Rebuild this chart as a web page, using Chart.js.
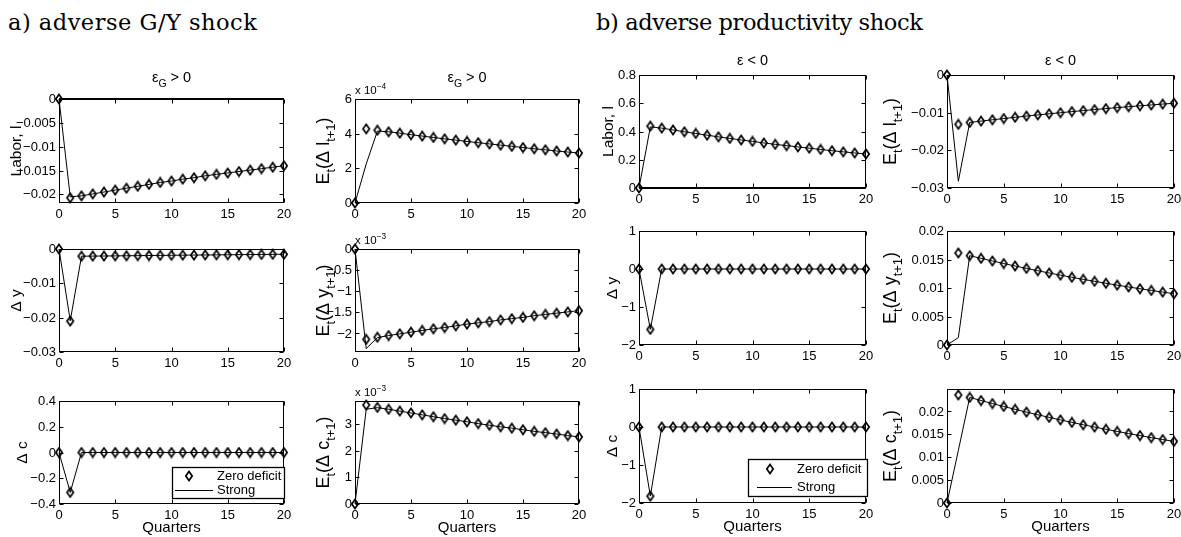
<!DOCTYPE html>
<html>
<head>
<meta charset="utf-8">
<script src="https://cdn.jsdelivr.net/npm/chart.js@4.4.1/dist/chart.umd.min.js"></script>
<style>
  html, body { margin: 0; padding: 0; background: #fff; }
  body { width: 1181px; height: 537px; overflow: hidden; position: relative; }
  .head { position: absolute; font-family: "DejaVu Serif", serif; font-size: 22.5px; line-height: 23px; color: #000; white-space: nowrap; }
  canvas { position: absolute; }
</style>
</head>
<body>
<div class="head" style="left:8px;top:11px;letter-spacing:0.5px">a) adverse G/Y shock</div>
<div class="head" style="left:596px;top:11px;letter-spacing:-0.4px">b) adverse productivity shock</div>
<script>
// Horizon in quarters
const quarters = [0, 1, 2, 3, 4, 5, 6, 7, 8, 9, 10, 11, 12, 13, 14, 15, 16, 17, 18, 19, 20];

// ---- a) adverse G/Y shock (eps_G > 0) ----
const gLaborZeroDeficit = [0, -0.0207, -0.0203, -0.0199, -0.0195, -0.0191, -0.0187, -0.0183, -0.0179, -0.0175, -0.0172, -0.0168, -0.0165, -0.0161, -0.0158, -0.0155, -0.0152, -0.0149, -0.0146, -0.0143, -0.0140];
const gLaborStrong      = [0, -0.0205, -0.0203, -0.0199, -0.0195, -0.0191, -0.0187, -0.0183, -0.0179, -0.0175, -0.0172, -0.0168, -0.0165, -0.0161, -0.0158, -0.0155, -0.0152, -0.0149, -0.0146, -0.0143, -0.0140];
const gLaborFlat        = [0, 0, 0, 0, 0, 0, 0, 0, 0, 0, 0, 0, 0, 0, 0, 0, 0, 0, 0, 0, 0];

const gExpLaborZeroDeficit = [0, 4.28e-4, 4.20e-4, 4.11e-4, 4.03e-4, 3.94e-4, 3.86e-4, 3.78e-4, 3.70e-4, 3.63e-4, 3.55e-4, 3.48e-4, 3.41e-4, 3.34e-4, 3.27e-4, 3.20e-4, 3.13e-4, 3.07e-4, 3.00e-4, 2.94e-4, 2.88e-4];
const gExpLaborStrong      = [0, 2.25e-4, 4.15e-4, 4.11e-4, 4.03e-4, 3.94e-4, 3.86e-4, 3.78e-4, 3.70e-4, 3.63e-4, 3.55e-4, 3.48e-4, 3.41e-4, 3.34e-4, 3.27e-4, 3.20e-4, 3.13e-4, 3.07e-4, 3.00e-4, 2.94e-4, 2.88e-4];

const gOutputZeroDeficit = [0, -0.0210, -0.00210, -0.00207, -0.00204, -0.00200, -0.00197, -0.00193, -0.00190, -0.00187, -0.00183, -0.00180, -0.00177, -0.00174, -0.00171, -0.00168, -0.00165, -0.00162, -0.00159, -0.00156, -0.00153];
const gOutputStrong      = [0, -0.0209, -0.00210, -0.00207, -0.00204, -0.00200, -0.00197, -0.00193, -0.00190, -0.00187, -0.00183, -0.00180, -0.00177, -0.00174, -0.00171, -0.00168, -0.00165, -0.00162, -0.00159, -0.00156, -0.00153];

const gExpOutputZeroDeficit = [0, -2.14e-3, -2.09e-3, -2.05e-3, -2.01e-3, -1.97e-3, -1.93e-3, -1.89e-3, -1.86e-3, -1.82e-3, -1.78e-3, -1.75e-3, -1.72e-3, -1.68e-3, -1.65e-3, -1.62e-3, -1.58e-3, -1.55e-3, -1.52e-3, -1.49e-3, -1.46e-3];
const gExpOutputStrong      = [0, -2.36e-3, -2.10e-3, -2.05e-3, -2.01e-3, -1.97e-3, -1.93e-3, -1.89e-3, -1.86e-3, -1.82e-3, -1.78e-3, -1.75e-3, -1.72e-3, -1.68e-3, -1.65e-3, -1.62e-3, -1.58e-3, -1.55e-3, -1.52e-3, -1.49e-3, -1.46e-3];

const gConsZeroDeficit = [0, -0.31, 0, 0, 0, 0, 0, 0, 0, 0, 0, 0, 0, 0, 0, 0, 0, 0, 0, 0, 0];
const gConsStrong      = [0, -0.31, 0, 0, 0, 0, 0, 0, 0, 0, 0, 0, 0, 0, 0, 0, 0, 0, 0, 0, 0];

const gExpConsZeroDeficit = [0, 3.72e-3, 3.63e-3, 3.56e-3, 3.49e-3, 3.42e-3, 3.35e-3, 3.28e-3, 3.21e-3, 3.15e-3, 3.09e-3, 3.02e-3, 2.96e-3, 2.90e-3, 2.85e-3, 2.79e-3, 2.73e-3, 2.68e-3, 2.63e-3, 2.57e-3, 2.52e-3];
const gExpConsStrong      = [0, 3.56e-3, 3.62e-3, 3.56e-3, 3.49e-3, 3.42e-3, 3.35e-3, 3.28e-3, 3.21e-3, 3.15e-3, 3.09e-3, 3.02e-3, 2.96e-3, 2.90e-3, 2.85e-3, 2.79e-3, 2.73e-3, 2.68e-3, 2.63e-3, 2.57e-3, 2.52e-3];

// ---- b) adverse productivity shock (eps < 0) ----
const zLaborZeroDeficit = [0, 0.438, 0.424, 0.411, 0.398, 0.386, 0.374, 0.362, 0.351, 0.340, 0.330, 0.319, 0.309, 0.300, 0.291, 0.282, 0.273, 0.264, 0.256, 0.248, 0.241];
const zLaborStrong      = [0, 0.433, 0.424, 0.411, 0.398, 0.386, 0.374, 0.362, 0.351, 0.340, 0.330, 0.319, 0.309, 0.300, 0.291, 0.282, 0.273, 0.264, 0.256, 0.248, 0.241];
const zLaborFlat        = [0, 0, 0, 0, 0, 0, 0, 0, 0, 0, 0, 0, 0, 0, 0, 0, 0, 0, 0, 0, 0];

const zExpLaborZeroDeficit = [0, -0.0131, -0.0126, -0.01224, -0.01189, -0.01156, -0.01123, -0.01091, -0.01060, -0.01030, -0.01001, -0.00972, -0.00945, -0.00918, -0.00892, -0.00866, -0.00842, -0.00818, -0.00795, -0.00772, -0.00750];
const zExpLaborStrong      = [0, -0.0282, -0.0126, -0.01224, -0.01189, -0.01156, -0.01123, -0.01091, -0.01060, -0.01030, -0.01001, -0.00972, -0.00945, -0.00918, -0.00892, -0.00866, -0.00842, -0.00818, -0.00795, -0.00772, -0.00750];

const zOutputZeroDeficit = [0, -1.59, 0, 0, 0, 0, 0, 0, 0, 0, 0, 0, 0, 0, 0, 0, 0, 0, 0, 0, 0];
const zOutputStrong      = [0, -1.59, 0, 0, 0, 0, 0, 0, 0, 0, 0, 0, 0, 0, 0, 0, 0, 0, 0, 0, 0];

const zExpOutputZeroDeficit = [0, 0.01615, 0.01567, 0.01520, 0.01474, 0.01429, 0.01386, 0.01344, 0.01303, 0.01263, 0.01225, 0.01188, 0.01152, 0.01117, 0.01083, 0.01050, 0.01018, 0.00987, 0.00957, 0.00928, 0.00900];
const zExpOutputStrong      = [0, 0.0013, 0.01567, 0.01520, 0.01474, 0.01429, 0.01386, 0.01344, 0.01303, 0.01263, 0.01225, 0.01188, 0.01152, 0.01117, 0.01083, 0.01050, 0.01018, 0.00987, 0.00957, 0.00928, 0.00900];

const zConsZeroDeficit = [0, -1.82, 0, 0, 0, 0, 0, 0, 0, 0, 0, 0, 0, 0, 0, 0, 0, 0, 0, 0, 0];
const zConsStrong      = [0, -1.82, 0, 0, 0, 0, 0, 0, 0, 0, 0, 0, 0, 0, 0, 0, 0, 0, 0, 0, 0];

const zExpConsZeroDeficit = [0, 0.0236, 0.02306, 0.02238, 0.02172, 0.02108, 0.02046, 0.01985, 0.01927, 0.01870, 0.01815, 0.01761, 0.01709, 0.01659, 0.01610, 0.01563, 0.01516, 0.01472, 0.01428, 0.01386, 0.01345];
const zExpConsStrong      = [0, 0.0115, 0.02306, 0.02238, 0.02172, 0.02108, 0.02046, 0.01985, 0.01927, 0.01870, 0.01815, 0.01761, 0.01709, 0.01659, 0.01610, 0.01563, 0.01516, 0.01472, 0.01428, 0.01386, 0.01345];

// ---- tick values and labels ----
const xTicks      = [0, 5, 10, 15, 20];
const xTickLabels = ['0', '5', '10', '15', '20'];

const gLaborTicks = [0, -0.005, -0.01, -0.015, -0.02];
const gLaborTickLabels = ['0', '\u22120.005', '\u22120.01', '\u22120.015', '\u22120.02'];
const gExpLaborTicks = [0, 2e-4, 4e-4, 6e-4];
const gExpLaborTickLabels = ['0', '2', '4', '6'];
const gOutputTicks = [0, -0.01, -0.02, -0.03];
const gOutputTickLabels = ['0', '\u22120.01', '\u22120.02', '\u22120.03'];
const gExpOutputTicks = [0, -0.5e-3, -1e-3, -1.5e-3, -2e-3];
const gExpOutputTickLabels = ['0', '\u22120.5', '\u22121', '\u22121.5', '\u22122'];
const gConsTicks = [0.4, 0.2, 0, -0.2, -0.4];
const gConsTickLabels = ['0.4', '0.2', '0', '\u22120.2', '\u22120.4'];
const gExpConsTicks = [0, 1e-3, 2e-3, 3e-3];
const gExpConsTickLabels = ['0', '1', '2', '3'];

const zLaborTicks = [0, 0.2, 0.4, 0.6, 0.8];
const zLaborTickLabels = ['0', '0.2', '0.4', '0.6', '0.8'];
const zExpLaborTicks = [0, -0.01, -0.02, -0.03];
const zExpLaborTickLabels = ['0', '\u22120.01', '\u22120.02', '\u22120.03'];
const zOutputTicks = [1, 0, -1, -2];
const zOutputTickLabels = ['1', '0', '\u22121', '\u22122'];
const zExpOutputTicks = [0, 0.005, 0.01, 0.015, 0.02];
const zExpOutputTickLabels = ['0', '0.005', '0.01', '0.015', '0.02'];
const zConsTicks = [1, 0, -1, -2];
const zConsTickLabels = ['1', '0', '\u22121', '\u22122'];
const zExpConsTicks = [0, 0.005, 0.01, 0.015, 0.02];
const zExpConsTickLabels = ['0', '0.005', '0.01', '0.015', '0.02'];

// ---- layout helpers ----
const SANS = '"Liberation Sans", Arial, Helvetica, sans-serif';
const PL = 75, PT = 30, PR = 14, PB = 40;
const TICK_FONT = 13;

function toXY(values) {
  return quarters.map((q, i) => ({ x: q, y: values[i] }));
}

// hollow diamond marker
const diamond = (function () {
  const c = document.createElement('canvas');
  c.width = 10; c.height = 12;
  const g = c.getContext('2d');
  g.strokeStyle = '#000';
  g.lineWidth = 1.7;
  g.beginPath();
  g.moveTo(5, 1.5); g.lineTo(8.2, 6); g.lineTo(5, 10.5); g.lineTo(1.8, 6); g.closePath();
  g.stroke();
  return c;
})();

function richWidth(ctx, segs, size) {
  let w = 0;
  for (const [t, m] of segs) {
    ctx.font = (m ? size * 0.72 : size) + 'px ' + SANS;
    w += ctx.measureText(t).width;
  }
  return w;
}
function drawRich(ctx, segs, x, y, size, align) {
  const w = richWidth(ctx, segs, size);
  let cx = align === 'center' ? x - w / 2 : (align === 'right' ? x - w : x);
  ctx.textAlign = 'left';
  ctx.textBaseline = 'alphabetic';
  for (const [t, m] of segs) {
    const s = m ? size * 0.72 : size;
    ctx.font = s + 'px ' + SANS;
    const dy = m === 'sub' ? size * 0.32 : (m === 'sup' ? -size * 0.45 : 0);
    ctx.fillText(t, cx, y + dy);
    cx += ctx.measureText(t).width;
  }
}

function axesPlugin(p) {
  return {
    id: 'axesBox',
    afterDraw(chart) {
      const ctx = chart.ctx, a = chart.chartArea;
      const xs = chart.scales.x, ys = chart.scales.y;
      const ox = p.box[0] - PL, oy = p.box[1] - PT;   // canvas origin in page space
      const L = Math.round(a.left) + 0.5, R = Math.round(a.right) - 0.5;
      const T = Math.round(a.top) + 0.5, B = Math.round(a.bottom) - 0.5;
      ctx.save();
      ctx.fillStyle = '#000';
      ctx.strokeStyle = '#000';
      ctx.lineWidth = 1;
      ctx.strokeRect(L, T, R - L, B - T);
      // inward ticks on all four sides
      ctx.beginPath();
      for (const v of xTicks) {
        const px = Math.round(xs.getPixelForValue(v)) + 0.5;
        ctx.moveTo(px, B); ctx.lineTo(px, B - 4);
        ctx.moveTo(px, T); ctx.lineTo(px, T + 4);
      }
      for (const v of p.ticks) {
        const py = Math.round(ys.getPixelForValue(v)) + 0.5;
        ctx.moveTo(L, py); ctx.lineTo(L + 4, py);
        ctx.moveTo(R, py); ctx.lineTo(R - 4, py);
      }
      ctx.stroke();
      // tick labels
      ctx.font = TICK_FONT + 'px ' + SANS;
      ctx.textAlign = 'center';
      ctx.textBaseline = 'alphabetic';
      xTicks.forEach((v, i) => ctx.fillText(xTickLabels[i], xs.getPixelForValue(v), a.bottom + 15));
      ctx.textAlign = 'right';
      ctx.textBaseline = 'middle';
      p.ticks.forEach((v, i) => ctx.fillText(p.tickLabels[i], a.left - 3, ys.getPixelForValue(v) + 0.5));
      // exponent above the axis
      if (p.exponent) {
        drawRich(ctx, [['x 10'], [p.exponent, 'sup']], a.left, a.top - 5, 11.5, 'left');
      }
      // rotated y-axis title
      ctx.save();
      ctx.translate(p.yTitleX - ox, (a.top + a.bottom) / 2);
      ctx.rotate(-Math.PI / 2);
      drawRich(ctx, p.yTitle, 0, 0, p.yTitleSize, 'center');
      ctx.restore();
      // subplot title
      if (p.title) {
        drawRich(ctx, p.title, (a.left + a.right) / 2, a.top - p.titleGap, 14.5, 'center');
      }
      // x-axis title
      if (p.xTitle) {
        ctx.font = '15px ' + SANS;
        ctx.textAlign = 'center';
        ctx.textBaseline = 'alphabetic';
        ctx.fillText(p.xTitle, (a.left + a.right) / 2, a.bottom + 28);
      }
      // legend
      if (p.legend) {
        const lg = p.legend;
        ctx.fillStyle = '#fff';
        ctx.fillRect(lg.box[0] - ox, lg.box[1] - oy, lg.box[2] - lg.box[0], lg.box[3] - lg.box[1]);
        ctx.strokeStyle = '#000';
        ctx.lineWidth = 1.3;
        ctx.strokeRect(lg.box[0] - ox + 0.5, lg.box[1] - oy + 0.5, lg.box[2] - lg.box[0] - 1, lg.box[3] - lg.box[1] - 1);
        ctx.drawImage(diamond, lg.marker[0] - ox - diamond.width / 2, lg.marker[1] - oy - diamond.height / 2);
        ctx.lineWidth = 1;
        ctx.beginPath();
        ctx.moveTo(lg.line[0] - ox, lg.line[2] - oy + 0.5);
        ctx.lineTo(lg.line[1] - ox, lg.line[2] - oy + 0.5);
        ctx.stroke();
        ctx.fillStyle = '#000';
        ctx.font = TICK_FONT + 'px ' + SANS;
        ctx.textAlign = 'left';
        ctx.textBaseline = 'middle';
        ctx.fillText('Zero deficit', lg.textX - ox, lg.marker[1] - oy);
        ctx.fillText('Strong', lg.textX - ox, lg.line[2] - oy);
      }
      ctx.restore();
    }
  };
}

function makePanel(p) {
  const [x0, y0, x1, y1] = p.box;
  const c = document.createElement('canvas');
  c.width = x1 - x0 + PL + PR;
  c.height = y1 - y0 + PT + PB;
  c.style.left = (x0 - PL) + 'px';
  c.style.top = (y0 - PT) + 'px';
  document.body.appendChild(c);

  const datasets = [];
  if (p.flat) {
    datasets.push({ label: 'Baseline', data: toXY(p.flat), showLine: true, borderColor: '#000', borderWidth: 2, pointRadius: 0, clip: false });
  }
  datasets.push({ label: 'Strong', data: toXY(p.strong), showLine: true, borderColor: '#000', borderWidth: 1, pointRadius: 0, tension: 0, clip: false });
  datasets.push({ label: 'Zero deficit', data: toXY(p.zero), showLine: false, pointStyle: diamond, pointRadius: 5, borderColor: '#000', clip: false });

  new Chart(c, {
    type: 'scatter',
    data: { datasets },
    options: {
      responsive: false,
      animation: false,
      events: [],
      layout: { padding: { left: PL, top: PT, right: PR, bottom: PB } },
      plugins: { legend: { display: false }, tooltip: { enabled: false } },
      scales: {
        x: { type: 'linear', display: false, min: 0, max: 20 },
        y: { type: 'linear', display: false, min: p.yMin, max: p.yMax }
      }
    },
    plugins: [axesPlugin(p)]
  });
}

const titleG = [['\u03b5'], ['G', 'sub'], [' > 0']];
const titleZ = [['\u03b5 < 0']];
const labelLabor = [['Labor, l']];
const labelOutput = [['\u0394 y']];
const labelCons = [['\u0394 c']];
const labelExpLabor = [['E'], ['t', 'sub'], ['(\u0394 l'], ['t+1', 'sub'], [')']];
const labelExpOutput = [['E'], ['t', 'sub'], ['(\u0394 y'], ['t+1', 'sub'], [')']];
const labelExpCons = [['E'], ['t', 'sub'], ['(\u0394 c'], ['t+1', 'sub'], [')']];

const panels = [
  // a) left column
  { box: [59, 99, 284, 203], yMin: -0.0218, yMax: 0, ticks: gLaborTicks, tickLabels: gLaborTickLabels,
    zero: gLaborZeroDeficit, strong: gLaborStrong, flat: gLaborFlat,
    yTitle: labelLabor, yTitleX: 21, yTitleSize: 15.5, title: titleG, titleGap: 17 },
  { box: [59, 249, 284, 352], yMin: -0.03, yMax: 0, ticks: gOutputTicks, tickLabels: gOutputTickLabels,
    zero: gOutputZeroDeficit, strong: gOutputStrong,
    yTitle: labelOutput, yTitleX: 21, yTitleSize: 15.5 },
  { box: [59, 401, 284, 504], yMin: -0.4, yMax: 0.4, ticks: gConsTicks, tickLabels: gConsTickLabels,
    zero: gConsZeroDeficit, strong: gConsStrong,
    yTitle: labelCons, yTitleX: 27, yTitleSize: 15.5, xTitle: 'Quarters',
    legend: { box: [172, 467, 285, 499], marker: [189, 476], line: [175, 213, 490], textX: 217 } },
  // a) right column
  { box: [355, 99, 579, 203], yMin: 0, yMax: 6e-4, ticks: gExpLaborTicks, tickLabels: gExpLaborTickLabels,
    zero: gExpLaborZeroDeficit, strong: gExpLaborStrong, exponent: '\u22124',
    yTitle: labelExpLabor, yTitleX: 329, yTitleSize: 18, title: titleG, titleGap: 17 },
  { box: [355, 249, 579, 352], yMin: -2.44e-3, yMax: 0, ticks: gExpOutputTicks, tickLabels: gExpOutputTickLabels,
    zero: gExpOutputZeroDeficit, strong: gExpOutputStrong, exponent: '\u22123',
    yTitle: labelExpOutput, yTitleX: 329, yTitleSize: 18 },
  { box: [355, 401, 579, 504], yMin: 0, yMax: 3.87e-3, ticks: gExpConsTicks, tickLabels: gExpConsTickLabels,
    zero: gExpConsZeroDeficit, strong: gExpConsStrong, exponent: '\u22123',
    yTitle: labelExpCons, yTitleX: 329, yTitleSize: 18, xTitle: 'Quarters' },
  // b) left column
  { box: [639, 75, 866, 188], yMin: 0, yMax: 0.8, ticks: zLaborTicks, tickLabels: zLaborTickLabels,
    zero: zLaborZeroDeficit, strong: zLaborStrong, flat: zLaborFlat,
    yTitle: labelLabor, yTitleX: 613, yTitleSize: 15.5, title: titleZ, titleGap: 10 },
  { box: [639, 231, 866, 345], yMin: -2, yMax: 1, ticks: zOutputTicks, tickLabels: zOutputTickLabels,
    zero: zOutputZeroDeficit, strong: zOutputStrong,
    yTitle: labelOutput, yTitleX: 617, yTitleSize: 15.5 },
  { box: [639, 389, 866, 503], yMin: -2, yMax: 1, ticks: zConsTicks, tickLabels: zConsTickLabels,
    zero: zConsZeroDeficit, strong: zConsStrong,
    yTitle: labelCons, yTitleX: 617, yTitleSize: 15.5, xTitle: 'Quarters',
    legend: { box: [748, 459, 868, 497], marker: [770, 469], line: [757, 792, 487], textX: 797 } },
  // b) right column
  { box: [947, 75, 1174, 188], yMin: -0.03, yMax: 0, ticks: zExpLaborTicks, tickLabels: zExpLaborTickLabels,
    zero: zExpLaborZeroDeficit, strong: zExpLaborStrong,
    yTitle: labelExpLabor, yTitleX: 896, yTitleSize: 18, title: titleZ, titleGap: 10 },
  { box: [947, 231, 1174, 345], yMin: 0, yMax: 0.02, ticks: zExpOutputTicks, tickLabels: zExpOutputTickLabels,
    zero: zExpOutputZeroDeficit, strong: zExpOutputStrong,
    yTitle: labelExpOutput, yTitleX: 896, yTitleSize: 18 },
  { box: [947, 389, 1174, 503], yMin: 0, yMax: 0.0249, ticks: zExpConsTicks, tickLabels: zExpConsTickLabels,
    zero: zExpConsZeroDeficit, strong: zExpConsStrong,
    yTitle: labelExpCons, yTitleX: 896, yTitleSize: 18, xTitle: 'Quarters' }
];

panels.forEach(makePanel);
</script>
</body>
</html>
